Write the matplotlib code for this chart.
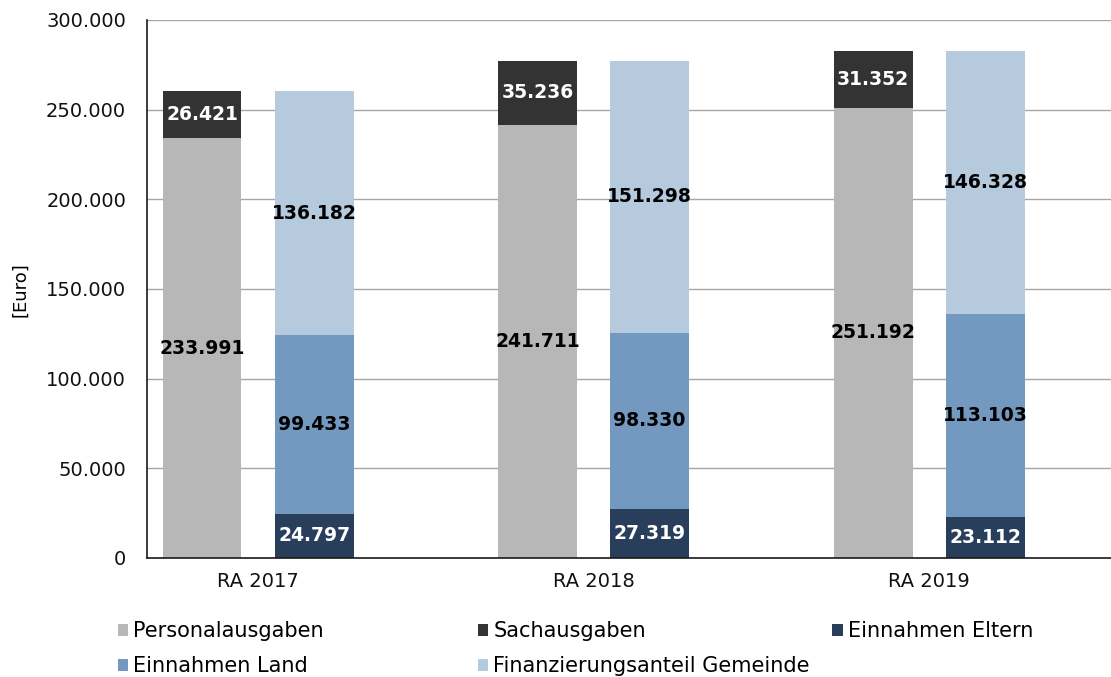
import matplotlib
matplotlib.use("Agg")
import matplotlib.pyplot as plt
from matplotlib.patches import Patch
from matplotlib.ticker import FuncFormatter, MultipleLocator

categories = ["RA 2017", "RA 2018", "RA 2019"]
personalausgaben = [233991, 241711, 251192]
sachausgaben = [26421, 35236, 31352]
einnahmen_eltern = [24797, 27319, 23112]
einnahmen_land = [99433, 98330, 113103]
anteil_gemeinde = [136182, 151298, 146328]

names = ["Personalausgaben", "Sachausgaben", "Einnahmen Eltern",
         "Einnahmen Land", "Finanzierungsanteil Gemeinde"]
colors = ["#b7b7b7", "#333333", "#283e5b", "#7499c0", "#b6cade"]
label_colors = ["black", "white", "white", "black", "black"]

plt.rcParams["font.family"] = ["DejaVu Sans"]


def de_fmt(v):
    return f"{int(round(v)):,}".replace(",", ".")


fig = plt.figure(figsize=(11.11, 6.77), dpi=100)
ax = fig.add_axes([0.1323, 0.1758, 0.8677, 0.7947])

x = list(range(len(categories)))
width = 0.235
off = 0.167


def stack(xpos, series_list, idx_list):
    bottom = [0] * len(xpos)
    for series, i in zip(series_list, idx_list):
        bars = ax.bar(xpos, series, width, bottom=bottom, color=colors[i],
                      zorder=3, linewidth=0)
        for b, v, bt in zip(bars, series, bottom):
            ax.text(b.get_x() + b.get_width() / 2, bt + v / 2, de_fmt(v),
                    ha="center", va="center", fontsize=13.5, fontweight="bold",
                    color=label_colors[i], zorder=4)
        bottom = [a + b for a, b in zip(bottom, series)]


stack([c - off for c in x], [personalausgaben, sachausgaben], [0, 1])
stack([c + off for c in x], [einnahmen_eltern, einnahmen_land, anteil_gemeinde], [2, 3, 4])

ax.set_xlim(-0.331, 2.542)
ax.set_ylim(0, 300000)
ax.yaxis.set_major_locator(MultipleLocator(50000))
ax.yaxis.set_major_formatter(FuncFormatter(lambda v, p: de_fmt(v)))
ax.set_xticks(x)
ax.set_xticklabels(categories)
ax.tick_params(axis="y", length=0, pad=15, labelsize=14, labelcolor="#111111")
ax.tick_params(axis="x", length=0, pad=10, labelsize=14, labelcolor="#111111")
ax.grid(axis="y", color="#a6a6a6", linewidth=1, zorder=0)
for s in ["top", "right"]:
    ax.spines[s].set_visible(False)
for s in ["left", "bottom"]:
    ax.spines[s].set_color("#1a1a1a")
    ax.spines[s].set_linewidth(1.2)
    ax.spines[s].set_zorder(5)

fig.text(0.018, 0.572, "[Euro]", rotation=90, ha="center", va="center", fontsize=13)

# legend: three columns placed explicitly
columns = [[0, 3], [1, 4], [2]]
col_x = [0.106, 0.430, 0.749]
for cx, idxs in zip(col_x, columns):
    handles = [Patch(facecolor=colors[i], edgecolor="none", label=names[i]) for i in idxs]
    fig.legend(handles=handles, loc="upper left", bbox_to_anchor=(cx, 0.082),
               bbox_transform=fig.transFigure, frameon=False, fontsize=15,
               handlelength=0.5, handleheight=0.5, handletextpad=0.25,
               labelspacing=0.72, borderpad=0, borderaxespad=0)

fig.savefig("out.png", dpi=100)
